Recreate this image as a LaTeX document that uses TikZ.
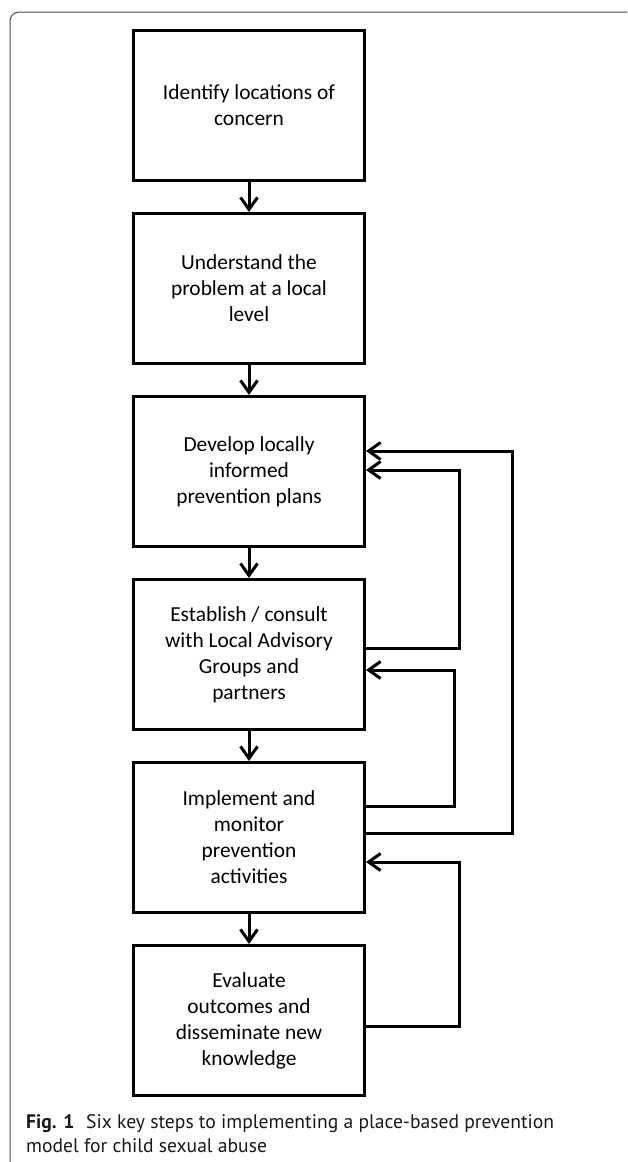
\documentclass[tikz,border=0pt]{standalone}
\usepackage{fontspec}
\setmainfont{Carlito}
\newfontfamily\capfont{PT Sans}
\usetikzlibrary{positioning,arrows.meta}

\begin{document}
\begin{tikzpicture}[x=1pt, y=-1pt, node distance=30pt,
  every node/.style={font=\fontsize{21.4}{26}\selectfont},
  stepbox/.style={draw, line width=3pt, minimum width=231pt, minimum height=150pt, align=center, inner sep=0pt},
  flow/.style={-{Straight Barb[length=12pt,width=17pt]}, line width=3pt}]
\useasboundingbox (0,0) rectangle (627,1162);
% frame
\draw[black!70, line width=1pt, rounded corners=9pt] (10,1162) -- (10,12) -- (627,12);
% steps
\node[stepbox] (locate) at (249,105.5) {Identify locations of\\concern};
\node[stepbox, below=of locate] (understand) {Understand the\\problem at a local\\level};
\node[stepbox, below=of understand] (develop) {Develop locally\\informed\\prevention plans};
\node[stepbox, below=of develop] (consult) {Establish / consult\\with Local Advisory\\Groups and\\partners};
\node[stepbox, below=of consult] (implement) {Implement and\\monitor\\prevention\\activities};
\node[stepbox, below=of implement] (evaluate) {Evaluate\\outcomes and\\disseminate new\\knowledge};
\draw[flow] (locate) -- (understand);
\draw[flow] (understand) -- (develop);
\draw[flow] (develop) -- (consult);
\draw[flow] (consult) -- (implement);
\draw[flow] (implement) -- (evaluate);
% feedback loops
\draw[flow] ([yshift=4.5pt]implement.east) -- ++(146.5,0) |- ([yshift=20.5pt]develop.east);
\draw[flow] ([yshift=6.5pt]consult.east) -- ++(93.5,0) |- ([yshift=1.5pt]develop.east);
\draw[flow] ([yshift=31.5pt]implement.east) -- ++(88.5,0) |- ([yshift=-15.5pt]consult.east);
\draw[flow] ([yshift=-5.5pt]evaluate.east) -- ++(93.5,0) |- ([yshift=-24.5pt]implement.east);
% caption
\node[anchor=north west, inner sep=0pt, align=left, text=black!90, font=\capfont\fontsize{19.6}{24}\selectfont] (caption) at (26,1114)
  {\textbf{Fig. 1}\hspace{0.6em}Six key steps to implementing a place-based prevention\\model for child sexual abuse};
\end{tikzpicture}
\end{document}
